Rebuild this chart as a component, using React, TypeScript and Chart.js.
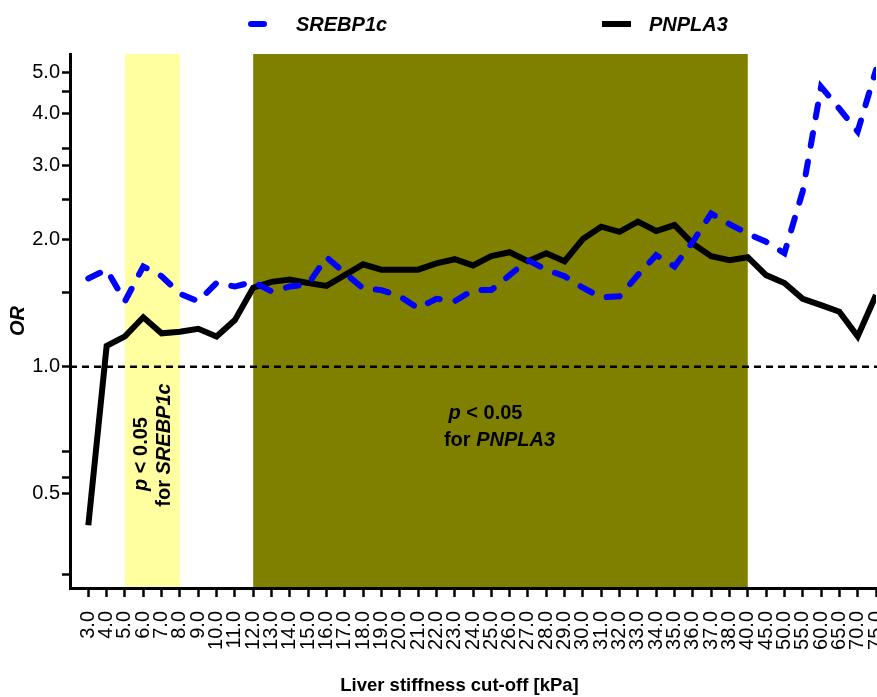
import React, { useEffect, useRef } from 'react';
import { Chart, registerables } from 'chart.js';

Chart.register(...registerables);

const FONT = '"Liberation Sans", Arial, Helvetica, sans-serif';

// Liver stiffness cut-off values (kPa)
const cutoffs = [
  '3.0', '4.0', '5.0', '6.0', '7.0', '8.0', '9.0', '10.0', '11.0', '12.0',
  '13.0', '14.0', '15.0', '16.0', '17.0', '18.0', '19.0', '20.0', '21.0', '22.0',
  '23.0', '24.0', '25.0', '26.0', '27.0', '28.0', '29.0', '30.0', '31.0', '32.0',
  '33.0', '34.0', '35.0', '36.0', '37.0', '38.0', '40.0', '45.0', '50.0', '55.0',
  '60.0', '65.0', '70.0', '75.0',
];

// Odds ratios per cut-off
const srebp1cOR = [
  1.62, 1.70, 1.43, 1.73, 1.64, 1.49, 1.43, 1.58, 1.55, 1.59,
  1.51, 1.55, 1.57, 1.82, 1.67, 1.535, 1.52, 1.47, 1.376, 1.45,
  1.43, 1.52, 1.52, 1.65, 1.79, 1.70, 1.64, 1.54, 1.46, 1.47,
  1.65, 1.84, 1.73, 1.98, 2.31, 2.18, 2.07, 1.98, 1.86, 2.61,
  4.62, 4.10, 3.62, 5.07,
];

const pnpla3OR = [
  0.42, 1.12, 1.18, 1.31, 1.20, 1.21, 1.23, 1.18, 1.29, 1.54,
  1.59, 1.61, 1.58, 1.555, 1.65, 1.75, 1.70, 1.70, 1.70, 1.76,
  1.80, 1.74, 1.83, 1.87, 1.78, 1.86, 1.78, 2.01, 2.15, 2.09,
  2.21, 2.10, 2.17, 1.96, 1.83, 1.79, 1.82, 1.65, 1.58, 1.45,
  1.40, 1.35, 1.18, 1.48,
];

const seriesNames = ['SREBP1c', 'PNPLA3'];

// Cut-off ranges with p < 0.05
const srebp1cSignificant = ['5.0', '8.0'];
const pnpla3Significant = ['12.0', '40.0'];

const referenceOR = 1.0;
const labelledTicks = [0.5, 1.0, 2.0, 3.0, 4.0, 5.0];
const minorTicks = [0.32, 0.545, 0.63, 1.5, 2.5, 3.3, 4.5];
const axisMin = 0.298;
const axisMax = 5.53;

type Run = { text: string; italic?: boolean };

function drawRuns(ctx: CanvasRenderingContext2D, runs: Run[], cx: number, cy: number, size: number) {
  const fontFor = (r: Run) => `${r.italic ? 'italic ' : ''}bold ${size}px ${FONT}`;
  let total = 0;
  for (const r of runs) {
    ctx.font = fontFor(r);
    total += ctx.measureText(r.text).width;
  }
  let x = cx - total / 2;
  ctx.textAlign = 'left';
  ctx.textBaseline = 'middle';
  for (const r of runs) {
    ctx.font = fontFor(r);
    ctx.fillText(r.text, x, cy);
    x += ctx.measureText(r.text).width;
  }
}

const overlayPlugin = {
  id: 'orOverlay',
  beforeDraw(chart: any) {
    const { ctx, chartArea, scales } = chart;
    const x = scales.x;
    const band = (range: string[], color: string) => {
      const x0 = x.getPixelForValue(cutoffs.indexOf(range[0]));
      const x1 = x.getPixelForValue(cutoffs.indexOf(range[1]));
      ctx.fillStyle = color;
      ctx.fillRect(x0, chartArea.top, x1 - x0, chartArea.bottom - chartArea.top);
    };
    ctx.save();
    band(srebp1cSignificant, '#FFFFA0');
    band(pnpla3Significant, '#808000');
    ctx.restore();
  },
  beforeDatasetsDraw(chart: any) {
    const { ctx, chartArea, scales } = chart;
    const yRef = scales.y.getPixelForValue(referenceOR);
    ctx.save();
    ctx.strokeStyle = '#000';
    ctx.lineWidth = 2.5;
    ctx.setLineDash([7, 5]);
    ctx.beginPath();
    ctx.moveTo(chartArea.left, yRef);
    ctx.lineTo(chartArea.right + 2, yRef);
    ctx.stroke();
    ctx.restore();
  },
  afterDatasetsDraw(chart: any) {
    const { ctx, scales } = chart;
    const x = scales.x;
    ctx.save();
    ctx.fillStyle = '#000';

    // p < 0.05 for PNPLA3
    const pa = x.getPixelForValue(cutoffs.indexOf(pnpla3Significant[0]));
    const pb = x.getPixelForValue(cutoffs.indexOf(pnpla3Significant[1]));
    const pc = (pa + pb) / 2;
    drawRuns(ctx, [{ text: 'p', italic: true }, { text: ' < 0.05' }], pc - 15, 413, 20);
    drawRuns(ctx, [{ text: 'for ' }, { text: 'PNPLA3', italic: true }], pc - 1, 440, 20);

    // p < 0.05 for SREBP1c (rotated)
    const sa = x.getPixelForValue(cutoffs.indexOf(srebp1cSignificant[0]));
    const sb = x.getPixelForValue(cutoffs.indexOf(srebp1cSignificant[1]));
    const sc = (sa + sb) / 2;
    ctx.save();
    ctx.translate(sc - 10.5, 454);
    ctx.rotate(-Math.PI / 2);
    drawRuns(ctx, [{ text: 'p', italic: true }, { text: ' < 0.05' }], 0, 0, 20);
    ctx.restore();
    ctx.save();
    ctx.translate(sc + 12.5, 445);
    ctx.rotate(-Math.PI / 2);
    drawRuns(ctx, [{ text: 'for ' }, { text: 'SREBP1c', italic: true }], 0, 0, 20);
    ctx.restore();
    ctx.restore();
  },
  afterDraw(chart: any) {
    const { ctx, chartArea } = chart;
    ctx.save();
    ctx.fillStyle = '#000';

    // Legend
    ctx.lineWidth = 6;
    ctx.strokeStyle = '#0000FF';
    ctx.lineCap = 'round';
    ctx.setLineDash([13, 16]);
    ctx.beginPath();
    ctx.moveTo(251, 24);
    ctx.lineTo(280, 24);
    ctx.stroke();
    ctx.setLineDash([]);
    ctx.lineCap = 'butt';
    ctx.strokeStyle = '#000';
    ctx.beginPath();
    ctx.moveTo(602, 24);
    ctx.lineTo(631, 24);
    ctx.stroke();
    ctx.font = `italic bold 20px ${FONT}`;
    ctx.textAlign = 'left';
    ctx.textBaseline = 'middle';
    ctx.fillText(seriesNames[0], 296, 25);
    ctx.fillText(seriesNames[1], 649, 25);

    // Axis titles
    ctx.font = `bold 18.5px ${FONT}`;
    ctx.textAlign = 'center';
    ctx.fillText('Liver stiffness cut-off [kPa]', 459.5, 686);

    ctx.save();
    ctx.translate(18, (chartArea.top + chartArea.bottom) / 2);
    ctx.rotate(-Math.PI / 2);
    ctx.font = `italic bold 20px ${FONT}`;
    ctx.textAlign = 'center';
    ctx.fillText('OR', 0, 0);
    ctx.restore();
    ctx.restore();
  },
};

export default function App() {
  const canvasRef = useRef<HTMLCanvasElement>(null);

  useEffect(() => {
    const canvas = canvasRef.current;
    if (!canvas) return;
    const chart = new Chart(canvas, {
      type: 'line',
      data: {
        datasets: [
          {
            label: seriesNames[0],
            data: srebp1cOR.map((v, i) => ({ x: i, y: v })),
            borderColor: '#0000FF',
            borderWidth: 6,
            borderDash: [13, 16],
            borderCapStyle: 'round',
            pointRadius: 0,
            fill: false,
            tension: 0,
          },
          {
            label: seriesNames[1],
            data: pnpla3OR.map((v, i) => ({ x: i, y: v })),
            borderColor: '#000000',
            borderWidth: 6,
            pointRadius: 0,
            fill: false,
            tension: 0,
          },
        ],
      },
      options: {
        responsive: false,
        devicePixelRatio: 1,
        animation: false,
        events: [],
        layout: { padding: { top: 54, right: 1, left: 0, bottom: 0 } },
        plugins: {
          legend: { display: false },
          title: { display: false },
          tooltip: { enabled: false },
        },
        scales: {
          x: {
            type: 'linear',
            min: -1,
            max: cutoffs.length - 1,
            afterBuildTicks: (scale: any) => {
              scale.ticks = cutoffs.map((_, i) => ({ value: i }));
            },
            afterFit: (scale: any) => {
              scale.height = 109;
              scale.paddingLeft = 0;
              scale.paddingRight = 0;
            },
            ticks: {
              autoSkip: false,
              maxRotation: 90,
              minRotation: 90,
              padding: 14,
              color: '#000',
              font: { family: FONT, size: 20 },
              callback: (v: any) => cutoffs[v] ?? '',
            },
            grid: {
              display: true,
              drawOnChartArea: false,
              drawTicks: true,
              tickLength: 9,
              tickColor: '#000',
              tickWidth: 2.5,
            },
            border: { display: true, color: '#000', width: 3 },
          },
          y: {
            type: 'logarithmic',
            min: axisMin,
            max: axisMax,
            afterBuildTicks: (scale: any) => {
              scale.ticks = [...labelledTicks, ...minorTicks]
                .sort((a, b) => a - b)
                .map((v) => ({ value: v }));
            },
            afterFit: (scale: any) => {
              scale.width = 70;
              scale.paddingTop = 0;
              scale.paddingBottom = 0;
            },
            ticks: {
              autoSkip: false,
              padding: 2,
              color: '#000',
              font: { family: FONT, size: 20 },
              callback: (v: any) => (labelledTicks.includes(v) ? Number(v).toFixed(1) : ''),
            },
            grid: {
              display: true,
              drawOnChartArea: false,
              drawTicks: true,
              tickLength: 8,
              tickColor: '#000',
              tickWidth: 2.5,
            },
            border: { display: true, color: '#000', width: 3 },
          },
        },
      },
      plugins: [overlayPlugin],
    } as any);
    return () => chart.destroy();
  }, []);

  return (
    <div style={{ position: 'fixed', left: 0, top: 0, width: 877, height: 697, background: '#fff' }}>
      <canvas ref={canvasRef} width={877} height={697} style={{ display: 'block', width: 877, height: 697 }} />
    </div>
  );
}
